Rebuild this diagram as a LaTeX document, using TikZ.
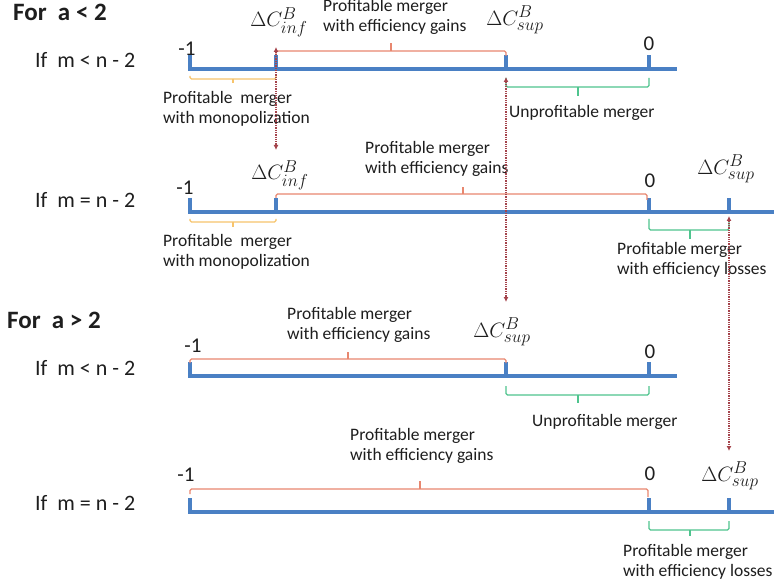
\documentclass[tikz,border=0pt]{standalone}
\usepackage{fontspec}
\setmainfont{Carlito}
\usepackage{tikz}
\usetikzlibrary{arrows.meta,positioning}
\DeclareMathSizes{20.74}{20.74}{17.28}{12}

\definecolor{axisblue}{HTML}{4A80C4}
\definecolor{gainred}{HTML}{E8876F}
\definecolor{monoyellow}{HTML}{F7C46C}
\definecolor{lossgreen}{HTML}{4FC48E}
\definecolor{linkred}{HTML}{A5444C}
\definecolor{textdark}{HTML}{1E1E1E}

\begin{document}
\begin{tikzpicture}
	[x=1pt,y=-1pt,
		axis/.style={draw=axisblue,line width=3.5pt},
		gain/.style={draw=gainred,line width=1.2pt,rounded corners=1.5pt},
		mono/.style={draw=monoyellow,line width=1.2pt,rounded corners=1.5pt},
		loss/.style={draw=lossgreen,line width=1.2pt,rounded corners=1.5pt},
		link/.style={draw=linkred,line width=2pt,dash pattern=on 1.3pt off 1pt,
			{Latex[length=5pt,width=5pt]}-{Latex[length=5pt,width=5pt]}},
		lab/.style={font=\fontsize{17.5}{20}\selectfont,text=textdark,align=left,inner sep=0pt,anchor=west},
		num/.style={font=\fontsize{21}{24}\selectfont,text=textdark,inner sep=0pt},
		mlab/.style={font=\fontsize{20.74}{24}\selectfont,text=textdark,inner sep=0pt},
		case/.style={font=\fontsize{22}{26}\selectfont,text=textdark,inner sep=0pt,anchor=west},
		head/.style={font=\fontsize{25}{29}\selectfont\bfseries,text=textdark,inner sep=0pt,anchor=west}]

	\path[fill=white] (0,0) rectangle (774,588);
	\useasboundingbox (0,0) rectangle (774,588);

	% For a < 2, m < n - 2
	\node[head] (fora) at (13,12) {For\ \ a < 2};
	\node[case] (case1) at (35,60) {If\ \ m < n - 2};
	\coordinate (a1inf) at (276,69);
	\coordinate (a1sup) at (506,69);
	\coordinate (a1zero) at (649,69);
	\draw[axis] (190,55) |- (677,69);
	\draw[axis] (a1inf) -- ++(0,-14);
	\draw[axis] (a1sup) -- ++(0,-14);
	\draw[axis] (a1zero) -- ++(0,-14);
	\node[num] (m1a) at (187,49) {-1};
	\node[num] (z1) at (649,44) {0};
	\node[mlab] (inf1) at (279,22) {$\Delta C^{B}_{inf}$};
	\node[mlab] (sup1) at (515,20) {$\Delta C^{B}_{sup}$};
	\draw[gain] (276,55) |- (506,51) -- (506,56);
	\draw[gain] (391,51) -- (391,43);
	\node[lab] (gain1) at (323,17) {Profitable merger\\with efficiency gains};
	\draw[mono] (190,76) |- (276,79) -- (276,76);
	\draw[mono] (233,79) -- (233,83);
	\node[lab] (mono1) at (163,109) {Profitable\ \ merger\\with monopolization};
	\draw[loss] (506,78) |- (649,87) -- (649,78);
	\draw[loss] (578,87) -- (578,96);
	\node[lab] (unp1) at (509,113) {Unprofitable merger};

	% For a < 2, m = n - 2
	\node[case] (case2) at (35,200) {If\ \ m = n - 2};
	\coordinate (a2inf) at (276,212);
	\coordinate (a2zero) at (649,212);
	\coordinate (a2sup) at (729,212);
	\draw[axis] (190,198) |- (774,212);
	\draw[axis] (a2inf) -- ++(0,-14);
	\draw[axis] (a2zero) -- ++(0,-14);
	\draw[axis] (a2sup) -- ++(0,-14);
	\node[num] (m1b) at (185,188) {-1};
	\node[num] (z2) at (650,181) {0};
	\node[mlab] (inf2) at (280,175) {$\Delta C^{B}_{inf}$};
	\node[mlab] (sup2) at (726,169) {$\Delta C^{B}_{sup}$};
	\draw[gain] (276,198) |- (647,194) -- (647,200);
	\draw[gain] (463,194) -- (463,187);
	\node[lab] (gain2) at (365,159) {Profitable merger\\with efficiency gains};
	\draw[mono] (190,219) |- (276,222) -- (276,219);
	\draw[mono] (233,222) -- (233,227);
	\node[lab] (mono2) at (163,252) {Profitable\ \ merger\\with monopolization};
	\draw[loss] (649,219) |- (729,230) -- (729,219);
	\draw[loss] (690,230) -- (690,239);
	\node[lab] (loss2) at (617,260) {Profitable merger\\with efficiency losses};

	% For a > 2, m < n - 2
	\node[head] (forb) at (7,320) {For\ \ a > 2};
	\node[case] (case3) at (35,368) {If\ \ m < n - 2};
	\coordinate (a3sup) at (506,376);
	\coordinate (a3zero) at (649,376);
	\draw[axis] (190,362) |- (677,376);
	\draw[axis] (a3sup) -- ++(0,-14);
	\draw[axis] (a3zero) -- ++(0,-14);
	\node[num] (m1c) at (193,346) {-1};
	\node[num] (z3) at (650,352) {0};
	\node[mlab] (sup3) at (502,332) {$\Delta C^{B}_{sup}$};
	\draw[gain] (190,363) |- (506,359) -- (506,363);
	\draw[gain] (348,359) -- (348,352);
	\node[lab] (gain3) at (287,325) {Profitable merger\\with efficiency gains};
	\draw[loss] (506,386) |- (649,395) -- (649,386);
	\draw[loss] (578,395) -- (578,403);
	\node[lab] (unp3) at (532,422) {Unprofitable merger};

	% For a > 2, m = n - 2
	\node[case] (case4) at (35,503) {If\ \ m = n - 2};
	\coordinate (a4zero) at (649,512);
	\coordinate (a4sup) at (729,512);
	\draw[axis] (190,498) |- (774,512);
	\draw[axis] (a4zero) -- ++(0,-14);
	\draw[axis] (a4sup) -- ++(0,-14);
	\node[num] (m1d) at (186,475) {-1};
	\node[num] (z4) at (650,474) {0};
	\node[mlab] (sup4) at (730,476) {$\Delta C^{B}_{sup}$};
	\draw[gain] (190,494) |- (648,489) -- (648,497);
	\draw[gain] (420,489) -- (420,481);
	\node[lab] (gain4) at (350,446) {Profitable merger\\with efficiency gains};
	\draw[loss] (649,521) |- (729,530) -- (729,521);
	\draw[loss] (690,530) -- (690,536);
	\node[lab] (loss4) at (623,562) {Profitable merger\\with efficiency losses};

	% dotted links between the cases
	\coordinate (top1) at (276,47);
	\coordinate (bot1) at (276,150);
	\coordinate (top2) at (506,77);
	\coordinate (bot2) at (506,302);
	\coordinate (top3) at (729,216);
	\coordinate (bot3) at (729,451);
	\draw[link] (top1) -- (bot1);
	\draw[link] (top2) -- (bot2);
	\draw[link] (top3) -- (bot3);

\end{tikzpicture}
\end{document}
